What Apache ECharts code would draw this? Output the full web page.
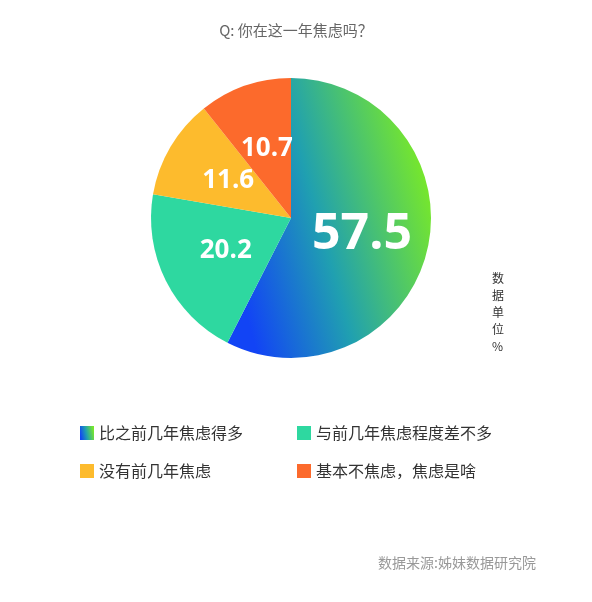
<!DOCTYPE html><html><head><meta charset="utf-8"><script src="https://cdn.jsdelivr.net/npm/echarts@6/dist/echarts.min.js"></script></head><body style="margin:0;background:#fff"><div id="c" style="width:592px;height:602px"></div><script>
const categories=['比之前几年焦虑得多','与前几年焦虑程度差不多','没有前几年焦虑','基本不焦虑，焦虑是啥'];
const values=[57.5,20.2,11.6,10.7];
const colors=[new echarts.graphic.LinearGradient(0,0.6,1,0.4,[{offset:0,color:'#1244f5'},{offset:0.45,color:'#20a0b0'},{offset:1,color:'#78e82a'}]),'#2ed8a0','#fdbb2d','#fc6a2c'];
const font='"Noto Sans CJK SC", sans-serif';
const chart=echarts.init(document.getElementById('c'));
chart.setOption({
 title:{text:'Q: 你在这一年焦虑吗？',left:'center',top:18,textStyle:{fontSize:15,fontWeight:'normal',color:'#666',fontFamily:font}},
 legend:[{data:[categories[0],categories[2]],orient:'vertical',left:75,top:420,itemGap:22,itemWidth:14,itemHeight:14,icon:'rect',textStyle:{fontSize:16,color:'#333',fontFamily:font}},
 {data:[categories[1],categories[3]],orient:'vertical',left:292,top:420,itemGap:22,itemWidth:14,itemHeight:14,icon:'rect',textStyle:{fontSize:16,color:'#333',fontFamily:font}}],
 graphic:[{type:'text',left:492,top:270,style:{text:'数\n据\n单\n位\n%',fontSize:12,lineHeight:17,fill:'#333',fontFamily:font}},
 {type:'text',left:378,top:556,style:{text:'数据来源:姊妹数据研究院',fontSize:14,fill:'#999',fontFamily:font}}],
 series:[{type:'pie',center:[291,218],radius:[0,140],startAngle:90,clockwise:true,silent:true,
  data:categories.map((n,i)=>({name:n,value:values[i],itemStyle:{color:colors[i]},
   label:{fontSize:i===0?50:26,position:'inside'}})),
  label:{show:true,position:'inside',formatter:'{c}',color:'#fff',fontWeight:'bold',fontFamily:'"Open Sans", sans-serif'},
  labelLine:{show:false}}]
});
</script></body></html>
